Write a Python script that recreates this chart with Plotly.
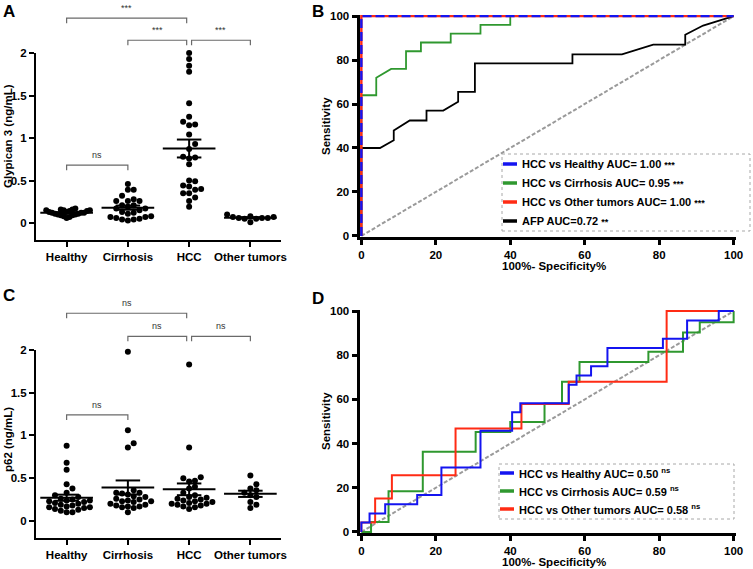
import numpy as np
import plotly.graph_objects as go

W, H = 753, 569
FONT = "Liberation Sans, Arial, Helvetica, sans-serif"

# ---------------- data ----------------
groups = ["Healthy", "Cirrhosis", "HCC", "Other tumors"]

gpc3_healthy = [0.17, 0.16, 0.16, 0.15, 0.15, 0.15, 0.14, 0.14, 0.13, 0.13, 0.12,
                0.12, 0.12, 0.11, 0.11, 0.10, 0.10, 0.09, 0.09, 0.08, 0.07, 0.06]
gpc3_cirrhosis = [0.46, 0.39, 0.39, 0.32, 0.28, 0.26, 0.26, 0.26, 0.21, 0.21, 0.19, 0.17,
                  0.17, 0.15, 0.13, 0.12, 0.11, 0.08, 0.07, 0.07, 0.06, 0.05, 0.04, 0.03, 0.04]
gpc3_hcc = [2.00, 1.93, 1.85, 1.78, 1.41, 1.25, 1.19, 1.16, 1.15, 1.04, 0.93, 0.87, 0.78,
            0.77, 0.76, 0.69, 0.50, 0.49, 0.44, 0.43, 0.40, 0.39, 0.35, 0.35, 0.30, 0.26, 0.19]
gpc3_other = [0.10, 0.08, 0.07, 0.07, 0.06, 0.06, 0.06, 0.05, 0.05, 0.01]

p62_healthy = [0.88, 0.68, 0.60, 0.43, 0.38, 0.33, 0.30, 0.28, 0.26, 0.25, 0.24, 0.24, 0.23, 0.22,
               0.21, 0.20, 0.19, 0.18, 0.17, 0.16, 0.16, 0.15, 0.14, 0.13, 0.12, 0.10, 0.10]
p62_cirrhosis = [1.98, 1.06, 0.91, 0.86, 0.36, 0.33, 0.33, 0.32, 0.31, 0.29, 0.28, 0.26, 0.25,
                 0.24, 0.23, 0.23, 0.22, 0.20, 0.19, 0.18, 0.17, 0.17, 0.16, 0.15, 0.10]
p62_hcc = [1.83, 0.86, 0.51, 0.50, 0.47, 0.46, 0.40, 0.38, 0.33, 0.30, 0.28, 0.27, 0.26, 0.25,
           0.24, 0.23, 0.22, 0.21, 0.20, 0.20, 0.19, 0.18, 0.17, 0.16, 0.14]
p62_other = [0.53, 0.43, 0.38, 0.36, 0.33, 0.30, 0.28, 0.22, 0.19, 0.15]

# significance brackets: (from group, to group, height, label)
gpc3_brackets = [(0, 2, 2.41, "***"), (1, 2, 2.15, "***"), (2, 3, 2.15, "***"), (0, 1, 0.68, "ns")]
p62_brackets = [(0, 2, 2.43, "ns"), (1, 2, 2.16, "ns"), (2, 3, 2.16, "ns"), (0, 1, 1.24, "ns")]

# ROC curves, panel B (GPC3 + AFP)
rocB_healthy_x = [0, 0, 100]
rocB_healthy_y = [0, 100, 100]
rocB_other_x = [0, 0, 100]
rocB_other_y = [0, 100, 100]
rocB_cirr_x = [0, 0, 4, 4, 8, 12, 12, 16, 16, 24, 24, 32, 32, 40, 40, 100]
rocB_cirr_y = [0, 64, 64, 72, 76, 76, 84, 84, 88, 88, 92, 92, 96, 96, 100, 100]
rocB_afp_x = [0, 0, 5, 8.7, 8.7, 13, 17.5, 17.5, 22, 26, 26, 30.5, 30.5, 56.7, 56.7, 70,
              78.4, 87, 87, 91.8, 100]
rocB_afp_y = [0, 40, 40, 43.5, 48, 52.5, 52.5, 57, 57, 61, 65.5, 65.5, 78.5, 78.5, 82.6, 82.6,
              87, 87, 91.5, 95.7, 100]
rocB_labels = ["HCC vs Healthy AUC= 1.00 ", "HCC vs Cirrhosis AUC= 0.95 ",
               "HCC vs Other tumors AUC= 1.00 ", "AFP AUC=0.72 "]
rocB_sig = ["***", "***", "***", "**"]

# ROC curves, panel D (p62)
rocD_healthy_x = [0, 0, 2.2, 2.2, 6.4, 6.4, 15, 15, 21.5, 21.5, 32, 32, 40.5, 40.5, 42.7, 42.7,
                  55.7, 55.7, 57.8, 57.8, 61.7, 61.7, 66.1, 66.1, 81, 81, 87.5, 87.5, 96, 96, 100]
rocD_healthy_y = [0, 4.2, 4.2, 8.3, 8.3, 12.5, 12.5, 16.7, 16.7, 29.2, 29.2, 45.8, 45.8, 54.2,
                  54.2, 58.3, 58.3, 66.7, 66.7, 70.8, 70.8, 75, 75, 83.3, 83.3, 87.5, 87.5, 95.8,
                  95.8, 100, 100]
rocD_cirr_x = [0, 2.6, 2.6, 7.3, 7.3, 16.5, 16.5, 30.7, 30.7, 40, 40, 49.2, 49.2, 53.9, 53.9,
               58.6, 58.6, 77.1, 77.1, 86.4, 86.4, 90.9, 90.9, 100, 100]
rocD_cirr_y = [0, 0, 4.5, 4.5, 18.4, 18.4, 36.3, 36.3, 45.3, 45.3, 49.8, 49.8, 58.2, 58.2, 68,
               68, 77, 77, 81.6, 81.6, 90.3, 90.3, 94.9, 94.9, 100]
rocD_other_x = [0, 0, 3.7, 3.7, 8.2, 8.2, 25.3, 25.3, 43, 43, 55.7, 55.7, 82, 82, 100]
rocD_other_y = [0, 4.2, 4.2, 15.1, 15.1, 25.7, 25.7, 46.8, 46.8, 57.9, 57.9, 68, 68, 100, 100]
rocD_labels = ["HCC vs Healthy AUC= 0.50 ", "HCC vs Cirrhosis AUC= 0.59 ",
               "HCC vs Other tumors AUC= 0.58 "]

# ---------------- layout geometry (pixels) ----------------
BLUE, GREEN, RED, GRAY = "#1414f0", "#2f982f", "#ff2b14", "#9a9a9a"
boxes = {
    "A": dict(x0=36, x1=281, y0=53, y1=240, xr=[-0.5, 3.5], yr=[-0.2, 2.0]),
    "B": dict(x0=359.5, x1=735.5, y0=15, y1=237, xr=[-0.5, 100.5], yr=[-0.5, 100.5]),
    "C": dict(x0=36, x1=281, y0=350, y1=538, xr=[-0.5, 3.5], yr=[-0.2, 2.0]),
    "D": dict(x0=359.5, x1=735.5, y0=310, y1=533, xr=[-0.5, 100.5], yr=[-0.5, 100.5]),
}


def dom_x(b):
    return [b["x0"] / W, b["x1"] / W]


def dom_y(b):
    return [1 - b["y1"] / H, 1 - b["y0"] / H]


def paper_x(b, v):
    d = dom_x(b)
    return d[0] + (v - b["xr"][0]) / (b["xr"][1] - b["xr"][0]) * (d[1] - d[0])


def paper_y(b, v):
    d = dom_y(b)
    return d[0] + (v - b["yr"][0]) / (b["yr"][1] - b["yr"][0]) * (d[1] - d[0])


def swarm(vals, b, diam=6.0, limit=0.38):
    xs = (b["x1"] - b["x0"]) / (b["xr"][1] - b["xr"][0])
    ys = (b["y1"] - b["y0"]) / (b["yr"][1] - b["yr"][0])
    vals = np.asarray(vals, float)
    order = np.argsort(vals)
    placed, off = [], np.zeros(len(vals))
    cands = [0]
    for j in range(1, 40):
        cands += [j, -j]
    for i in order:
        y = vals[i] * ys
        for c in cands:
            x = c * diam
            if all((x - px) ** 2 + (y - py) ** 2 >= diam ** 2 * 0.95 for px, py in placed):
                break
        placed.append((x, y))
        off[i] = x / xs
    mx = np.max(np.abs(off))
    if mx > limit:
        off = off * limit / mx
    return off


fig = go.Figure()
shapes, annots = [], []


def dot_panel(key, xa, ya, data, brackets):
    b = boxes[key]
    for i, vals in enumerate(data):
        off = swarm(vals, b)
        fig.add_trace(go.Scatter(x=i + off, y=vals, mode="markers", xaxis=xa, yaxis=ya,
                                 marker=dict(size=6, color="black"), showlegend=False,
                                 cliponaxis=False, hoverinfo="skip"))
        m = float(np.mean(vals))
        s = float(np.std(vals, ddof=1) / np.sqrt(len(vals)))
        lx = [i - 0.43, i + 0.43, None, i - 0.2, i + 0.2, None, i - 0.2, i + 0.2, None, i, i]
        ly = [m, m, None, m + s, m + s, None, m - s, m - s, None, m - s, m + s]
        fig.add_trace(go.Scatter(x=lx, y=ly, mode="lines", xaxis=xa, yaxis=ya,
                                 line=dict(color="black", width=2), showlegend=False,
                                 hoverinfo="skip"))
    for (g0, g1, h, lab) in brackets:
        a = g0 + (0.04 if g0 == 2 else 0)
        c = g1 - (0.04 if g1 == 2 else 0)
        xa0, xa1 = paper_x(b, a), paper_x(b, c)
        yb = paper_y(b, h)
        tick = 5 / H
        shapes.append(dict(type="path", xref="paper", yref="paper",
                           path=f"M {xa0},{yb - tick} L {xa0},{yb} L {xa1},{yb} L {xa1},{yb - tick}",
                           line=dict(color="#6a6a6a", width=1.2)))
        annots.append(dict(x=(xa0 + xa1) / 2, y=yb + 3 / H, xref="paper", yref="paper",
                           text=lab, showarrow=False, xanchor="center", yanchor="bottom",
                           font=dict(family=FONT, size=9, color="#333")))


dot_panel("A", "x", "y", [gpc3_healthy, gpc3_cirrhosis, gpc3_hcc, gpc3_other], gpc3_brackets)
dot_panel("C", "x3", "y3", [p62_healthy, p62_cirrhosis, p62_hcc, p62_other], p62_brackets)


def line(x, y, xa, ya, color, width, dash=None):
    fig.add_trace(go.Scatter(x=x, y=y, mode="lines", xaxis=xa, yaxis=ya, showlegend=False,
                             line=dict(color=color, width=width, dash=dash), hoverinfo="skip"))


# diagonal reference lines
line([0, 100], [0, 100], "x2", "y2", GRAY, 2, "4px,2px")
line([0, 100], [0, 100], "x4", "y4", GRAY, 2, "4px,2px")
# panel B
line(rocB_afp_x, rocB_afp_y, "x2", "y2", "black", 1.8)
line(rocB_cirr_x, rocB_cirr_y, "x2", "y2", GREEN, 1.8)
line(rocB_other_x, rocB_other_y, "x2", "y2", RED, 2.4)
line(rocB_healthy_x, rocB_healthy_y, "x2", "y2", BLUE, 2.4, "9px,4px")
# panel D
line(rocD_cirr_x, rocD_cirr_y, "x4", "y4", GREEN, 2)
line(rocD_other_x, rocD_other_y, "x4", "y4", RED, 2)
line(rocD_healthy_x, rocD_healthy_y, "x4", "y4", BLUE, 2)

# ---------------- legends (drawn) ----------------
def legend(box, rows, colors, labels, sigs, sup):
    bx0, by0, bx1, by1 = box
    shapes.append(dict(type="rect", xref="paper", yref="paper", x0=bx0 / W, x1=bx1 / W,
                       y0=1 - by1 / H, y1=1 - by0 / H, line=dict(color="#a8a8a8", width=1, dash="dot"),
                       fillcolor="white", layer="below"))
    for ry, col, lab, sg in zip(rows, colors, labels, sigs):
        shapes.append(dict(type="line", xref="paper", yref="paper", x0=(bx0 + 1) / W, x1=(bx0 + 15) / W,
                           y0=1 - ry / H, y1=1 - ry / H, line=dict(color=col, width=3.5)))
        if sup:
            t = f"{lab}<sup>{sg}</sup>"
        else:
            t = f"{lab}<span style='font-size:9px'>{sg}</span>"
        annots.append(dict(x=(bx0 + 18) / W, y=1 - ry / H, xref="paper", yref="paper",
                           text=t, showarrow=False, xanchor="left", yanchor="middle",
                           font=dict(family=FONT, size=11, color="black", weight="bold")))


legend((502, 154, 750, 231), [164, 183, 202, 221], [BLUE, GREEN, RED, "black"],
       rocB_labels, rocB_sig, False)
legend((499, 464, 734, 519), [473, 491, 509], [BLUE, GREEN, RED], rocD_labels,
       ["ns", "ns", "ns"], True)

# ---------------- text ----------------
def txt(x, y, s, size=11, angle=0):
    annots.append(dict(x=x / W, y=1 - y / H, xref="paper", yref="paper", text=s, showarrow=False,
                       textangle=angle, xanchor="center", yanchor="middle",
                       font=dict(family=FONT, size=size, color="black", weight="bold")))


txt(9, 12, "A", 17)
txt(318, 12, "B", 17)
txt(9, 295, "C", 17)
txt(318, 298, "D", 17)
txt(8, 136, "Glypican 3 (ng/mL)", 11.5, -90)
txt(8, 440, "p62 (ng/mL)", 11.5, -90)
txt(326, 126, "Sensitivity", 11.5, -90)
txt(326, 421, "Sensitivity", 11.5, -90)
txt(554, 266, "100%- Specificity%", 11.5)
txt(554, 562, "100%- Specificity%", 11.5)

# ---------------- axes ----------------
tickfont = dict(family=FONT, size=11.5, color="black", weight="bold")


def axis(b, letter, thick, **kw):
    d = dict(domain=dom_x(b) if letter == "x" else dom_y(b),
             range=b["xr"] if letter == "x" else b["yr"],
             showline=True, linecolor="black", linewidth=3 if thick else 2,
             ticks="outside", ticklen=5, tickwidth=3 if thick else 1.8, tickcolor="black",
             showgrid=False, zeroline=False, tickfont=tickfont, fixedrange=True,
             automargin=False)
    d.update(kw)
    return d


roc_ticks = [0, 20, 40, 60, 80, 100]
fig.update_layout(
    width=W, height=H, margin=dict(l=0, r=0, t=0, b=0, autoexpand=False),
    paper_bgcolor="white", plot_bgcolor="white", showlegend=False,
    xaxis=axis(boxes["A"], "x", False, anchor="y", tickvals=[0, 1, 2, 3], ticktext=groups),
    yaxis=axis(boxes["A"], "y", False, anchor="x", tickvals=[0, 0.5, 1, 1.5, 2],
               ticktext=["0", "0.5", "1", "1.5", "2"]),
    xaxis2=axis(boxes["B"], "x", True, anchor="y2", tickvals=roc_ticks, layer="below traces"),
    yaxis2=axis(boxes["B"], "y", True, anchor="x2", tickvals=roc_ticks, layer="below traces"),
    xaxis3=axis(boxes["C"], "x", False, anchor="y3", tickvals=[0, 1, 2, 3], ticktext=groups),
    yaxis3=axis(boxes["C"], "y", False, anchor="x3", tickvals=[0, 0.5, 1, 1.5, 2],
                ticktext=["0", "0.5", "1", "1.5", "2"]),
    xaxis4=axis(boxes["D"], "x", True, anchor="y4", tickvals=roc_ticks, layer="below traces"),
    yaxis4=axis(boxes["D"], "y", True, anchor="x4", tickvals=roc_ticks, layer="below traces"),
    shapes=shapes, annotations=annots,
)

fig.write_html("out.html", config={"displayModeBar": False},
               post_script="document.body.style.margin='0';document.body.style.overflow='hidden';")
